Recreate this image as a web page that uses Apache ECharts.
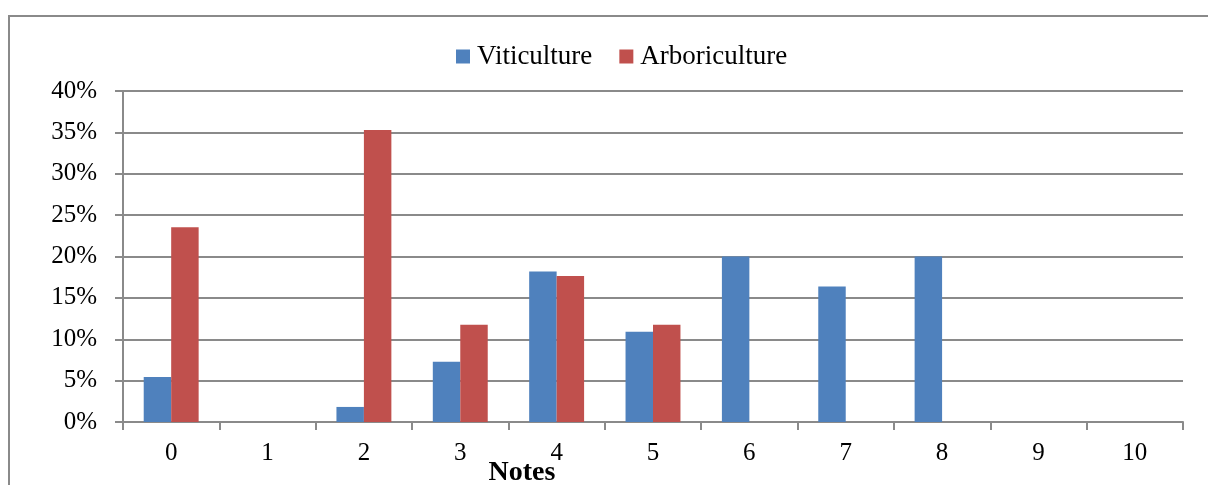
<!DOCTYPE html>
<html>
<head>
<meta charset="utf-8">
<script src="https://cdn.jsdelivr.net/npm/echarts@6/dist/echarts.min.js"></script>
<style>
html,body{margin:0;padding:0;background:#fff;}
#c{width:1208px;height:485px;}
</style>
</head>
<body>
<div id="c"></div>
<script>
const categories = ['0','1','2','3','4','5','6','7','8','9','10'];
const viticulture = [5.45, 0, 1.82, 7.27, 18.18, 10.91, 20, 16.36, 20, 0, 0];
const arboriculture = [23.53, 0, 35.29, 11.76, 17.65, 11.76, 0, 0, 0, 0, 0];
const yTicks = [0, 5, 10, 15, 20, 25, 30, 35, 40];

const FONT = '"Liberation Serif", "Times New Roman", serif';
const GREY = '#8a8a8a';

const chart = echarts.init(document.getElementById('c'), null, {renderer: 'canvas'});
chart.setOption({
  animation: false,
  backgroundColor: '#fff',
  graphic: [{
    type: 'rect',
    shape: {x: 9, y: 16, width: 1300, height: 600},
    style: {fill: 'none', stroke: GREY, lineWidth: 2},
    silent: true
  }],
  legend: {
    left: 456,
    top: 43,
    padding: 0,
    itemWidth: 14,
    itemHeight: 14,
    itemGap: 27,
    icon: 'rect',
    textStyle: {fontFamily: FONT, fontSize: 27, color: '#000', padding: [0, 0, 0, 2]},
    data: ['Viticulture', 'Arboriculture']
  },
  grid: {left: 123, right: 25, top: 91, bottom: 63, containLabel: false, outerBoundsMode: 'none'},
  xAxis: {
    type: 'category',
    data: categories,
    name: 'Notes',
    nameLocation: 'middle',
    nameGap: 37,
    nameMoveOverlap: false,
    nameTextStyle: {fontFamily: FONT, fontSize: 28, fontWeight: 'bold', color: '#000', padding: [0, 262, 0, 0]},
    axisLine: {lineStyle: {color: GREY, width: 2}},
    axisTick: {show: true, length: 8, lineStyle: {color: GREY, width: 2}},
    axisLabel: {fontFamily: FONT, fontSize: 25, color: '#000', margin: 19},
    splitLine: {show: false}
  },
  yAxis: {
    type: 'value',
    min: 0,
    max: 40,
    interval: 5,
    axisLine: {show: true, lineStyle: {color: GREY, width: 2}},
    axisTick: {show: true, length: 8, lineStyle: {color: GREY, width: 2}},
    axisLabel: {
      fontFamily: FONT, fontSize: 25, color: '#000', margin: 26,
      formatter: v => (yTicks.indexOf(v) >= 0 ? v + '%' : '')
    },
    splitLine: {show: true, lineStyle: {color: GREY, width: 2}}
  },
  series: [
    {
      name: 'Viticulture',
      type: 'bar',
      data: viticulture,
      barGap: '0%',
      barCategoryGap: '43%',
      itemStyle: {color: '#4F81BD'}
    },
    {
      name: 'Arboriculture',
      type: 'bar',
      data: arboriculture,
      barGap: '0%',
      barCategoryGap: '43%',
      itemStyle: {color: '#C0504D'}
    }
  ]
});
</script>
</body>
</html>
